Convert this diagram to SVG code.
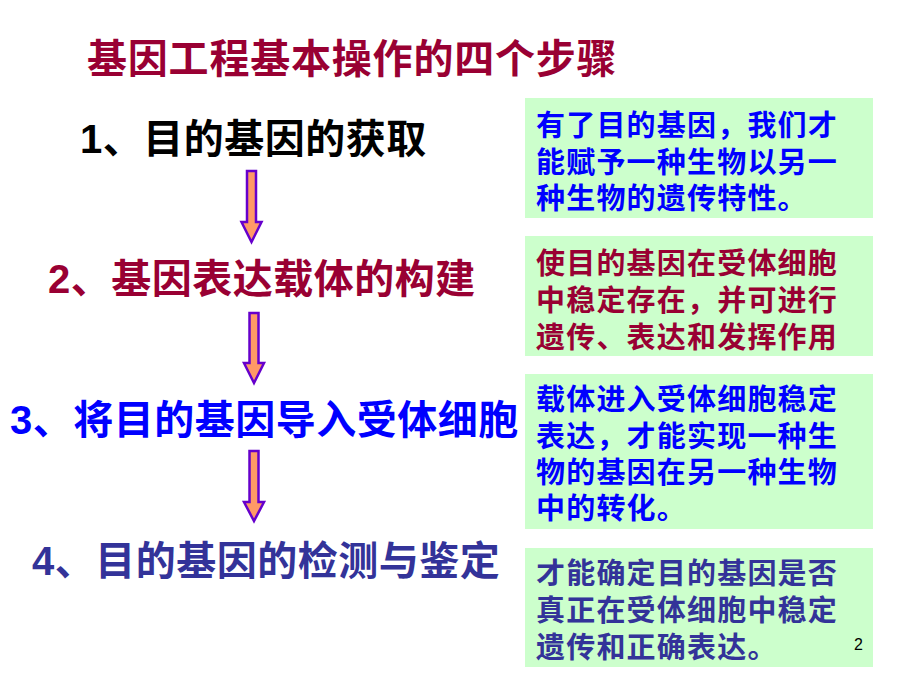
<svg xmlns="http://www.w3.org/2000/svg" width="920" height="690" viewBox="0 0 920 690">
<style>
text{font-family:"Liberation Sans","Noto Sans CJK SC",sans-serif;font-weight:bold}
.title{font-size:40px;fill:#990033;letter-spacing:0.8px}
.step{font-size:40px;letter-spacing:0.5px}
.box{fill:#CCFFCC}
.bt{font-size:29px;letter-spacing:1.2px}
.blue{fill:#0000FF}
.red{fill:#990033}
.navy{fill:#333399}
.arrow{fill:#FF9966;stroke:#6600CC;stroke-width:2.5;stroke-linejoin:miter}
.pn{font-size:16px;font-weight:normal;fill:#000}
</style>
<rect width="920" height="690" fill="#fff"/>
<g id="title"><text class="title" x="87" y="73">基因工程基本操作的四个步骤</text></g>
<g id="step1"><text class="step" x="80" y="153" fill="#000">1、目的基因的获取</text></g>
<g id="step2"><text class="step red" x="48" y="293">2、基因表达载体的构建</text></g>
<g id="step3"><text class="step blue" x="10" y="434">3、将目的基因导入受体细胞</text></g>
<g id="step4"><text class="step navy" x="32" y="575">4、目的基因的检测与鉴定</text></g>
<g id="connectors">
<polygon class="arrow" points="247,171 256,171 256,222 261.5,222 251.5,242 241.5,222 247,222"/>
<polygon class="arrow" points="249.5,313 258.5,313 258.5,363 264,363 254,383 244,363 249.5,363"/>
<polygon class="arrow" points="249.5,451 258.5,451 258.5,502 264,502 254,521 244,502 249.5,502"/>
</g>
<g id="note1">
<rect class="box" x="525" y="98" width="348" height="120"/>
<text class="bt blue" x="536" y="136">有了目的基因，我们才</text>
<text class="bt blue" x="536" y="173">能赋予一种生物以另一</text>
<text class="bt blue" x="536" y="209">种生物的遗传特性。</text>
</g>
<g id="note2">
<rect class="box" x="525" y="236" width="348" height="120"/>
<text class="bt red" x="536" y="274">使目的基因在受体细胞</text>
<text class="bt red" x="536" y="311">中稳定存在，并可进行</text>
<text class="bt red" x="536" y="348">遗传、表达和发挥作用</text>
</g>
<g id="note3">
<rect class="box" x="525" y="374" width="348" height="155"/>
<text class="bt blue" x="536" y="410">载体进入受体细胞稳定</text>
<text class="bt blue" x="536" y="447">表达，才能实现一种生</text>
<text class="bt blue" x="536" y="483">物的基因在另一种生物</text>
<text class="bt blue" x="536" y="519">中的转化。</text>
</g>
<g id="note4">
<rect class="box" x="525" y="548" width="348" height="119"/>
<text class="bt navy" x="536" y="584">才能确定目的基因是否</text>
<text class="bt navy" x="536" y="621">真正在受体细胞中稳定</text>
<text class="bt navy" x="536" y="658">遗传和正确表达。</text>
</g>
<g id="page"><text class="pn" x="854" y="650">2</text></g>
</svg>
